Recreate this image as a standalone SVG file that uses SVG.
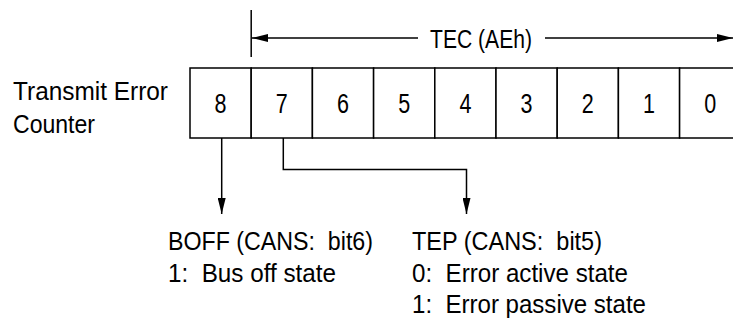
<svg xmlns="http://www.w3.org/2000/svg" width="733" height="323" viewBox="0 0 733 323">
<style>
text{font-family:"Liberation Sans",Arial,sans-serif;font-size:26px;fill:#000;white-space:pre}
.c{text-anchor:middle}
.d{font-size:27px}
.ln{stroke:#000;stroke-width:1.5;fill:none}
.cell{stroke:#000;stroke-width:1.5;fill:#fff}
</style>
<defs>
<marker id="ah" markerWidth="16" markerHeight="8" refX="16" refY="4" orient="auto" markerUnits="userSpaceOnUse">
<path d="M0,0 L16,4 L0,8 Z" fill="#000"/>
</marker>
</defs>
<g id="label">
<text x="13" y="100" textLength="155" lengthAdjust="spacingAndGlyphs">Transmit Error</text>
<text x="13" y="133" textLength="82" lengthAdjust="spacingAndGlyphs">Counter</text>
</g>
<g id="register">
<rect class="cell" x="190" y="68" width="61.2" height="70"/>
<rect class="cell" x="251.2" y="68" width="61.2" height="70"/>
<rect class="cell" x="312.4" y="68" width="61.2" height="70"/>
<rect class="cell" x="373.6" y="68" width="61.2" height="70"/>
<rect class="cell" x="434.8" y="68" width="61.2" height="70"/>
<rect class="cell" x="496" y="68" width="61.2" height="70"/>
<rect class="cell" x="557.2" y="68" width="61.2" height="70"/>
<rect class="cell" x="618.4" y="68" width="61.2" height="70"/>
<rect class="cell" x="679.6" y="68" width="61.2" height="70"/>
<text class="d" x="214.6" y="113" textLength="12" lengthAdjust="spacingAndGlyphs">8</text>
<text class="d" x="275.8" y="113" textLength="12" lengthAdjust="spacingAndGlyphs">7</text>
<text class="d" x="337" y="113" textLength="12" lengthAdjust="spacingAndGlyphs">6</text>
<text class="d" x="398.2" y="113" textLength="12" lengthAdjust="spacingAndGlyphs">5</text>
<text class="d" x="459.4" y="113" textLength="12" lengthAdjust="spacingAndGlyphs">4</text>
<text class="d" x="520.6" y="113" textLength="12" lengthAdjust="spacingAndGlyphs">3</text>
<text class="d" x="581.8" y="113" textLength="12" lengthAdjust="spacingAndGlyphs">2</text>
<text class="d" x="643" y="113" textLength="12" lengthAdjust="spacingAndGlyphs">1</text>
<text class="d" x="704.2" y="113" textLength="12" lengthAdjust="spacingAndGlyphs">0</text>
</g>
<g id="tec">
<text x="430" y="48" textLength="102" lengthAdjust="spacingAndGlyphs">TEC (AEh)</text>
</g>
<g id="boff">
<text x="168" y="250" textLength="205" lengthAdjust="spacingAndGlyphs">BOFF (CANS:  bit6)</text>
<text x="168" y="281.5" textLength="168" lengthAdjust="spacingAndGlyphs">1:  Bus off state</text>
</g>
<g id="tep">
<text x="412" y="250" textLength="190" lengthAdjust="spacingAndGlyphs">TEP (CANS:  bit5)</text>
<text x="412" y="281.5" textLength="216" lengthAdjust="spacingAndGlyphs">0:  Error active state</text>
<text x="412" y="313" textLength="234" lengthAdjust="spacingAndGlyphs">1:  Error passive state</text>
</g>
<g id="connectors">
<line class="ln" x1="251.2" y1="10" x2="251.2" y2="57"/>
<line class="ln" x1="418" y1="38" x2="252" y2="38" marker-end="url(#ah)"/>
<line class="ln" x1="545" y1="38" x2="733" y2="38" marker-end="url(#ah)"/>
<line class="ln" x1="221.7" y1="138" x2="221.7" y2="214" marker-end="url(#ah)"/>
<polyline class="ln" points="283.3,138 283.3,169.5 466.5,169.5 466.5,214" marker-end="url(#ah)"/>
</g>
</svg>
